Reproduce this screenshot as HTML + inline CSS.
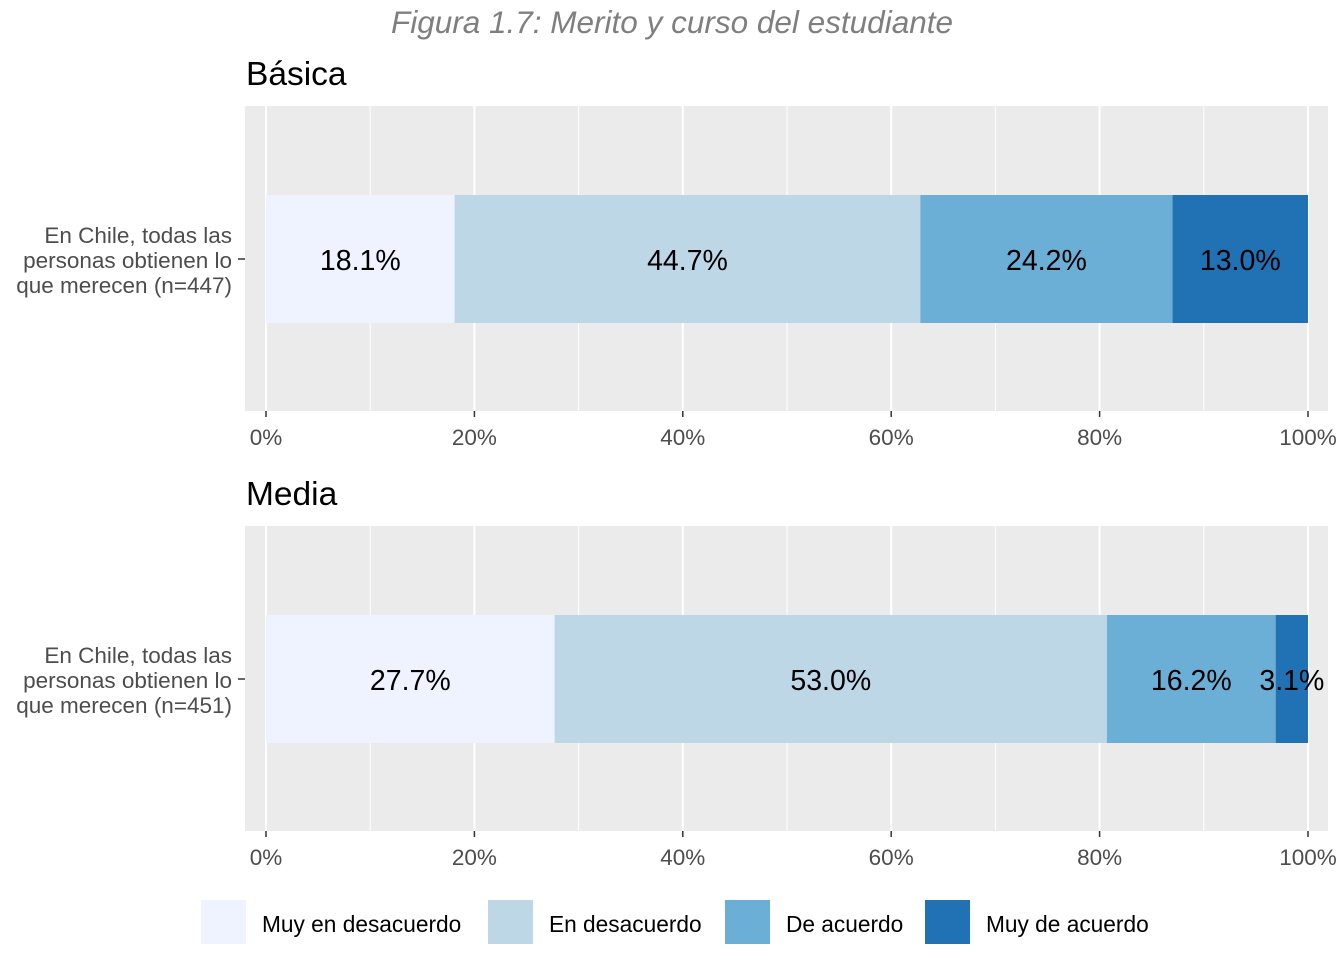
<!DOCTYPE html>
<html><head><meta charset="utf-8"><style>
body{margin:0;background:#fff;}
svg{display:block;font-family:"Liberation Sans",Arial,sans-serif;}
</style></head><body>
<svg id="chart" width="1344" height="960"></svg>
<script>
const categories=["Muy en desacuerdo","En desacuerdo","De acuerdo","Muy de acuerdo"];
const colors=["#EFF3FF","#BDD7E7","#6BAED6","#2171B5"];
const panelNames=["Básica","Media"];
const rowLabels=[["En Chile, todas las","personas obtienen lo","que merecen (n=447)"],["En Chile, todas las","personas obtienen lo","que merecen (n=451)"]];
const basicaValues=[18.1,44.7,24.2,13.0];
const mediaValues=[27.7,53.0,16.2,3.1];
const tickValues=[0,20,40,60,80,100];
const tickLabels=["0%","20%","40%","60%","80%","100%"];
const seriesByPanel=[basicaValues,mediaValues];

const NS="http://www.w3.org/2000/svg";
const svg=document.getElementById('chart');
function mk(tag,attrs,parent){const e=document.createElementNS(NS,tag);for(const k in attrs)e.setAttribute(k,attrs[k]);(parent||svg).appendChild(e);return e;}
const x=v=>266+v*(1308-266)/100;

const t=mk('text',{x:672,y:33,'text-anchor':'middle','font-size':31.5,'font-style':'italic',fill:'#7f7f7f'});


t.textContent="Figura 1.7: Merito y curso del estudiante";

const panelTops=[106,526];
panelTops.forEach((top,p)=>{
  const g=mk('g',{});
  
  
  const st=mk('text',{x:246,y:top-21,'font-size':33.5,fill:'#000'},g);
  
  
  st.textContent=panelNames[p];
  const bg=mk('rect',{x:245,y:top,width:1083,height:305,fill:'#EBEBEB'},g);
  
  
  for(let v=10;v<100;v+=20){const l=mk('line',{x1:x(v),x2:x(v),y1:top,y2:top+305,stroke:'#fff','stroke-width':1},g);
    
    }
  tickValues.forEach((v,i)=>{
    const l=mk('line',{x1:x(v),x2:x(v),y1:top,y2:top+305,stroke:'#fff','stroke-width':2},g);
    
    
    const tk=mk('line',{x1:x(v),x2:x(v),y1:top+305,y2:top+311,stroke:'#333','stroke-width':1.5},g);
    
    
    const tl=mk('text',{x:x(v),y:top+339,'text-anchor':'middle','font-size':22.5,fill:'#4d4d4d'},g);
    
    
    tl.textContent=tickLabels[i];
  });
  const barTop=top+89, barH=128, cy=barTop+barH/2;
  let acc=0;
  seriesByPanel[p].forEach((v,i)=>{
    const r=mk('rect',{x:x(acc),y:barTop,width:x(acc+v)-x(acc),height:barH,fill:colors[i]},g);
    
    
    const lb=mk('text',{x:x(acc+v/2),y:cy+11,'text-anchor':'middle','font-size':28.5,fill:'#000'},g);
    
    
    lb.textContent=v.toFixed(1)+"%";
    acc+=v;
  });
  const yt=mk('line',{x1:238,x2:245,y1:cy,y2:cy,stroke:'#333','stroke-width':1.5},g);
  
  
  rowLabels[p].forEach((s,j)=>{
    const yl=mk('text',{x:232,y:cy-16+j*25,'text-anchor':'end','font-size':22.5,fill:'#4d4d4d'},g);
    
    
    yl.textContent=s;
  });
});

const keyX=[201,488,725,925];
categories.forEach((c,i)=>{
  const g=mk('g',{});
  
  
  mk('rect',{x:keyX[i],y:900,width:45,height:44,fill:colors[i]},g);
  const lt=mk('text',{x:keyX[i]+61,y:932,'font-size':22.7,fill:'#000'},g);
  lt.textContent=c;
});
</script>
</body></html>
